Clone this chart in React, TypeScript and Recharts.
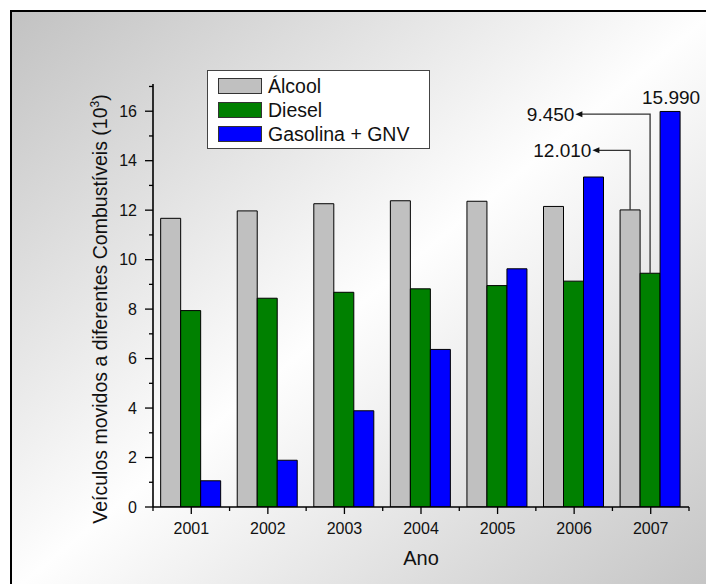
import { Bar, BarChart, LabelList, Legend, XAxis, YAxis } from "recharts";

// values in thousands of vehicles (10^3)
const years = ["2001", "2002", "2003", "2004", "2005", "2006", "2007"];
const alcool = [11.67, 11.97, 12.26, 12.38, 12.36, 12.15, 12.01];
const diesel = [7.94, 8.44, 8.68, 8.82, 8.95, 9.13, 9.45];
const gasolina = [1.06, 1.89, 3.89, 6.37, 9.63, 13.34, 15.99];
const seriesNames = ["Álcool", "Diesel", "Gasolina + GNV"];
const yTicks = [0, 1, 2, 3, 4, 5, 6, 7, 8, 9, 10, 11, 12, 13, 14, 15, 16, 17];

const data = years.map((year, i) => ({
    year,
    alcool: alcool[i],
    diesel: diesel[i],
    gasolina: gasolina[i],
}));

const FONT = '"Liberation Sans", Arial, Helvetica, sans-serif';
const INK = "#111";
const W = 706;
const H = 584;
const M = { top: 84, right: 17, bottom: 17, left: 0 };
const Y_AXIS_W = 153;
const X_AXIS_H = 60;
const PLOT_W = W - M.left - M.right - Y_AXIS_W;

/** 15.99 -> "15.990" (pt-BR thousands separator) */
const fmt = (v: number) => String(Math.round(v * 1000)).replace(/\B(?=(\d{3})+(?!\d))/g, ".");

const YTick = ({ x, y, payload }: any) => {
    const major = payload.value % 2 === 0;
    return (
        <g>
            <line x1={x} x2={x - (major ? 8 : 4)} y1={y} y2={y} stroke="#000" strokeWidth={1.3} />
            {major && (
                <text x={x - 16} y={y} dy="0.36em" textAnchor="end" fontSize={16} fontFamily={FONT} fill={INK}>
                    {payload.value}
                </text>
            )}
        </g>
    );
};

const XTick = ({ x, y, payload, index, visibleTicksCount }: any) => {
    const n = visibleTicksCount || years.length;
    const band = PLOT_W / n;
    const left = x - band / 2;
    return (
        <g>
            <line x1={x} x2={x} y1={y} y2={y + 7} stroke="#000" strokeWidth={1.3} />
            <line x1={left} x2={left} y1={y} y2={y + 4} stroke="#000" strokeWidth={1.3} />
            {index === n - 1 && <line x1={x + band / 2} x2={x + band / 2} y1={y} y2={y + 4} stroke="#000" strokeWidth={1.3} />}
            <text x={x} y={y + 21} dy="0.36em" textAnchor="middle" fontSize={16} fontFamily={FONT} fill={INK}>
                {payload.value}
            </text>
        </g>
    );
};

const YLabel = ({ viewBox }: any) => {
    const cx = (viewBox?.x ?? 0) + 100;
    const cy = 309;
    return (
        <text transform={`rotate(-90 ${cx} ${cy})`} x={cx} y={cy} dy="0.36em" textAnchor="middle" fontSize={19.5} fontFamily={FONT} fill={INK}>
            Veículos movidos a diferentes Combustíveis (10
            <tspan dy={-8} fontSize={12}>3</tspan>
            <tspan dy={8}>)</tspan>
        </text>
    );
};

const XLabel = ({ viewBox }: any) => {
    const vb = viewBox || { x: Y_AXIS_W, y: H - M.bottom - X_AXIS_H, width: PLOT_W };
    return (
        <text x={vb.x + vb.width / 2} y={vb.y + 51} dy="0.36em" textAnchor="middle" fontSize={20} fontFamily={FONT} fill={INK}>
            Ano
        </text>
    );
};

const boxOf = (p: any) => {
    const vb = p.viewBox || p;
    return { x: Number(vb.x), y: Number(vb.y), width: Number(vb.width), height: Number(vb.height) };
};

/** leader line with arrow from the top of the last bar up to a level, then left to the value */
const leader = (level: number, reach: number) => (props: any) => {
    if (props.index !== years.length - 1) return null;
    const { x, y, width, height } = boxOf(props);
    const value = Number(props.value);
    const cx = x + width / 2;
    const k = height / value;
    const ly = y + height - level * k;
    const tip = cx - reach;
    return (
        <g>
            <polyline points={`${cx},${y} ${cx},${ly} ${tip + 5},${ly}`} fill="none" stroke="#333" strokeWidth={1.3} />
            <polygon points={`${tip},${ly} ${tip + 7},${ly - 3} ${tip + 7},${ly + 3}`} fill="#111" />
            <text x={tip - 1} y={ly} dy="0.36em" textAnchor="end" fontSize={19} fontFamily={FONT} fill={INK}>
                {fmt(value)}
            </text>
        </g>
    );
};

const TopValue = (props: any) => {
    if (props.index !== years.length - 1) return null;
    const { x, y, width } = boxOf(props);
    return (
        <text x={x + width / 2 + 1} y={y - 14} dy="0.36em" textAnchor="middle" fontSize={19} fontFamily={FONT} fill={INK}>
            {fmt(Number(props.value))}
        </text>
    );
};

const LegendBox = ({ payload }: any) => {
    const items = [...(payload || [])].sort((a: any, b: any) => seriesNames.indexOf(a.value) - seriesNames.indexOf(b.value));
    return (
        <div
            style={{
                boxSizing: "border-box",
                width: 223,
                height: 79,
                border: "1px solid #444",
                background: "#fff",
                padding: "3px 0 0 10px",
                fontFamily: FONT,
                fontSize: 19.5,
                color: INK,
            }}
        >
            {items.map((p: any) => (
                <div key={p.value} style={{ display: "flex", alignItems: "center", height: 24 }}>
                    <span style={{ boxSizing: "border-box", width: 44, height: 16, background: p.color, border: "1px solid #333", marginRight: 6 }} />
                    <span style={{ lineHeight: "24px", whiteSpace: "nowrap" }}>{p.value}</span>
                </div>
            ))}
        </div>
    );
};

export default function App() {
    return (
        <div style={{ position: "absolute", left: 0, top: 0, width: W, height: H, overflow: "hidden", background: "#fff" }}>
            <div
                style={{
                    position: "absolute",
                    left: 10,
                    top: 10,
                    width: W,
                    height: H,
                    boxSizing: "border-box",
                    border: "2px solid #000",
                    background: "linear-gradient(to bottom right, #c2c2c2 0%, #fefefe 50%, #c4c4c4 100%)",
                }}
            />
            <div style={{ position: "absolute", left: 0, top: 0 }}>
                <BarChart width={W} height={H} data={data} margin={M} barCategoryGap="10%" barGap={0}>
                    <XAxis
                        dataKey="year"
                        height={X_AXIS_H}
                        tickSize={0}
                        tickMargin={0}
                        tick={<XTick />}
                        interval={0}
                        axisLine={{ stroke: "#000", strokeWidth: 1.6 }}
                        label={<XLabel />}
                    />
                    <YAxis
                        width={Y_AXIS_W}
                        domain={[0, 17.1]}
                        ticks={yTicks}
                        interval={0}
                        allowDataOverflow
                        tickSize={0}
                        tickMargin={0}
                        tick={<YTick />}
                        axisLine={{ stroke: "#000", strokeWidth: 1.6 }}
                        label={<YLabel />}
                    />
                    <Legend
                        layout="vertical"
                        align="center"
                        verticalAlign="middle"
                        content={<LegendBox />}
                        wrapperStyle={{ left: 207, top: 70, width: 223, height: 79 }}
                    />
                    <Bar dataKey="alcool" name={seriesNames[0]} fill="#c0c0c0" stroke="#000" strokeWidth={1} isAnimationActive={false}>
                        <LabelList dataKey="alcool" content={leader(14.42, 37.7)} />
                    </Bar>
                    <Bar dataKey="diesel" name={seriesNames[1]} fill="#008000" stroke="#000" strokeWidth={1} isAnimationActive={false}>
                        <LabelList dataKey="diesel" content={leader(15.88, 74.7)} />
                    </Bar>
                    <Bar dataKey="gasolina" name={seriesNames[2]} fill="#0000ff" stroke="#000" strokeWidth={1} isAnimationActive={false}>
                        <LabelList dataKey="gasolina" content={<TopValue />} />
                    </Bar>
                </BarChart>
            </div>
        </div>
    );
}
